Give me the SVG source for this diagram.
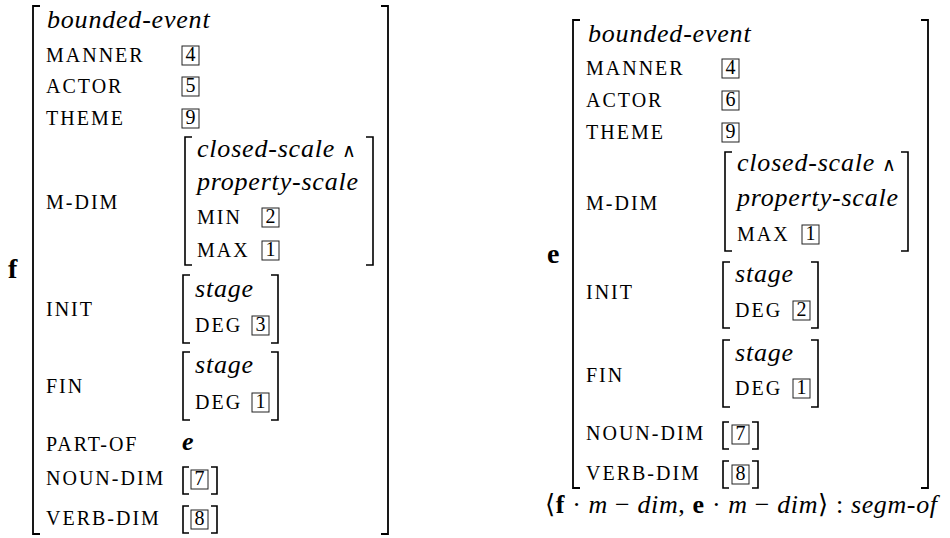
<svg xmlns="http://www.w3.org/2000/svg" width="950" height="538" viewBox="0 0 950 538">
<style>
text{font-family:'Liberation Serif','Times New Roman','DejaVu Serif',serif;fill:#000}
.lbl{font-size:20px;letter-spacing:2px}
.it{font-style:italic;font-size:26px;letter-spacing:0.8px}
.up{font-style:normal;letter-spacing:0;font-family:'Noto Sans',sans-serif;font-size:19px}
.bx{fill:none;stroke:#222;stroke-width:1}
.dg{font-size:20px;text-anchor:middle}
.br{fill:none;stroke:#000;stroke-width:1.8}
.bri{fill:none;stroke:#000;stroke-width:1.6}
.nm{font-weight:bold;font-size:28px}
.math{font-size:26px}
</style>

<!-- LEFT AVM: f -->
<g id="avm-f">
<text class="nm" x="8" y="278">f</text>
<path class="br" d="M40 6H33V534H40"/>
<path class="br" d="M381 6H388V534H381"/>
<text class="it" x="47" y="28">bounded-event</text>
<g id="f-manner"><text class="lbl" x="46" y="62">MANNER</text><rect class="bx" x="182" y="46" width="17" height="19"/><text class="dg" x="190.5" y="61">4</text></g>
<g id="f-actor"><text class="lbl" x="46" y="93">ACTOR</text><rect class="bx" x="182" y="77" width="17" height="19"/><text class="dg" x="190.5" y="92">5</text></g>
<g id="f-theme"><text class="lbl" x="46" y="125">THEME</text><rect class="bx" x="182" y="109" width="17" height="19"/><text class="dg" x="190.5" y="124">9</text></g>
<g id="f-mdim">
<text class="lbl" x="46" y="209">M-DIM</text>
<path class="bri" d="M192 137H185V265H192"/>
<path class="bri" d="M366 137H373V265H366"/>
<text class="it" x="197" y="157">closed-scale <tspan class="up">∧</tspan></text>
<text class="it" x="197" y="190">property-scale</text>
<text class="lbl" x="197" y="224">MIN</text><rect class="bx" x="262" y="208" width="17" height="19"/><text class="dg" x="270.5" y="223">2</text>
<text class="lbl" x="197" y="257">MAX</text><rect class="bx" x="262" y="241" width="17" height="19"/><text class="dg" x="270.5" y="256">1</text>
</g>
<g id="f-init">
<text class="lbl" x="46" y="316">INIT</text>
<path class="bri" d="M190 275H183V343H190"/>
<path class="bri" d="M271 275H278V343H271"/>
<text class="it" x="195" y="297">stage</text>
<text class="lbl" x="195" y="332">DEG</text><rect class="bx" x="252" y="316" width="17" height="19"/><text class="dg" x="260.5" y="331">3</text>
</g>
<g id="f-fin">
<text class="lbl" x="46" y="393">FIN</text>
<path class="bri" d="M190 352H183V420H190"/>
<path class="bri" d="M271 352H278V420H271"/>
<text class="it" x="195" y="373">stage</text>
<text class="lbl" x="195" y="409">DEG</text><rect class="bx" x="252" y="393" width="17" height="19"/><text class="dg" x="260.5" y="408">1</text>
</g>
<g id="f-partof"><text class="lbl" x="46" y="451">PART-OF</text><text class="it" x="182" y="450" font-weight="bold">e</text></g>
<g id="f-noundim">
<text class="lbl" x="46" y="485">NOUN-DIM</text>
<path class="bri" d="M189 467H183V494H189"/>
<path class="bri" d="M211 467H217V494H211"/>
<rect class="bx" x="191" y="470" width="17" height="19"/><text class="dg" x="199.5" y="485">7</text>
</g>
<g id="f-verbdim">
<text class="lbl" x="46" y="525">VERB-DIM</text>
<path class="bri" d="M189 506H183V533H189"/>
<path class="bri" d="M211 506H217V533H211"/>
<rect class="bx" x="191" y="510" width="17" height="19"/><text class="dg" x="199.5" y="525">8</text>
</g>
</g>

<!-- RIGHT AVM: e -->
<g id="avm-e">
<text class="nm" x="547" y="263">e</text>
<path class="br" d="M580 20H573V488H580"/>
<path class="br" d="M921 20H928V488H921"/>
<text class="it" x="588" y="42">bounded-event</text>
<g id="e-manner"><text class="lbl" x="586" y="75">MANNER</text><rect class="bx" x="722" y="59" width="17" height="19"/><text class="dg" x="730.5" y="74">4</text></g>
<g id="e-actor"><text class="lbl" x="586" y="107">ACTOR</text><rect class="bx" x="722" y="91" width="17" height="19"/><text class="dg" x="730.5" y="106">6</text></g>
<g id="e-theme"><text class="lbl" x="586" y="139">THEME</text><rect class="bx" x="722" y="123" width="17" height="19"/><text class="dg" x="730.5" y="138">9</text></g>
<g id="e-mdim">
<text class="lbl" x="586" y="210">M-DIM</text>
<path class="bri" d="M732 152H725V251H732"/>
<path class="bri" d="M901 152H908V251H901"/>
<text class="it" x="737" y="171">closed-scale <tspan class="up">∧</tspan></text>
<text class="it" x="737" y="206">property-scale</text>
<text class="lbl" x="737" y="241">MAX</text><rect class="bx" x="802" y="225" width="17" height="19"/><text class="dg" x="810.5" y="240">1</text>
</g>
<g id="e-init">
<text class="lbl" x="586" y="299">INIT</text>
<path class="bri" d="M730 262H723V328H730"/>
<path class="bri" d="M811 262H818V328H811"/>
<text class="it" x="735" y="282">stage</text>
<text class="lbl" x="735" y="317">DEG</text><rect class="bx" x="793" y="301" width="17" height="19"/><text class="dg" x="801.5" y="316">2</text>
</g>
<g id="e-fin">
<text class="lbl" x="586" y="382">FIN</text>
<path class="bri" d="M730 340H723V407H730"/>
<path class="bri" d="M811 340H818V407H811"/>
<text class="it" x="735" y="361">stage</text>
<text class="lbl" x="735" y="395">DEG</text><rect class="bx" x="793" y="379" width="17" height="19"/><text class="dg" x="801.5" y="394">1</text>
</g>
<g id="e-noundim">
<text class="lbl" x="586" y="440">NOUN-DIM</text>
<path class="bri" d="M729 422H723V449H729"/>
<path class="bri" d="M752 422H758V449H752"/>
<rect class="bx" x="732" y="425" width="17" height="19"/><text class="dg" x="740.5" y="440">7</text>
</g>
<g id="e-verbdim">
<text class="lbl" x="586" y="480">VERB-DIM</text>
<path class="bri" d="M729 461H723V488H729"/>
<path class="bri" d="M752 461H758V488H752"/>
<rect class="bx" x="732" y="465" width="17" height="19"/><text class="dg" x="740.5" y="480">8</text>
</g>
</g>

<g id="constraint">
<text class="math" x="545" y="513" textLength="392" lengthAdjust="spacing">⟨<tspan font-weight="bold">f</tspan> · <tspan font-style="italic">m</tspan> − <tspan font-style="italic">dim</tspan>, <tspan font-weight="bold">e</tspan> · <tspan font-style="italic">m</tspan> − <tspan font-style="italic">dim</tspan>⟩ : <tspan font-style="italic">segm-of</tspan></text>
</g>
</svg>
